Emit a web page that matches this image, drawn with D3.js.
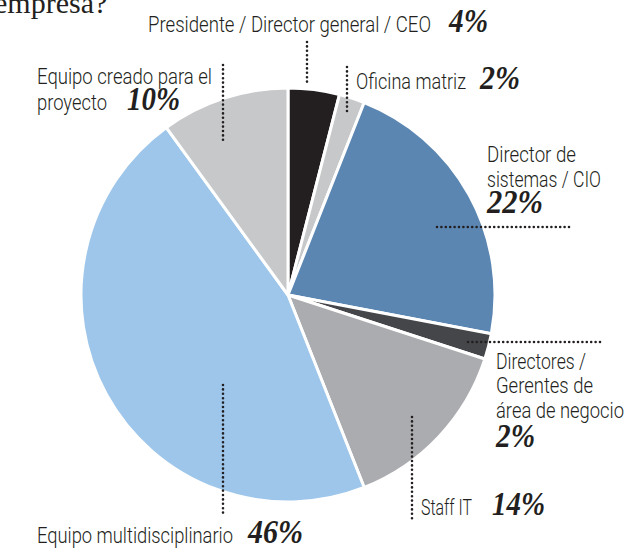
<!DOCTYPE html>
<html>
<head>
<meta charset="utf-8">
<script src="https://cdn.jsdelivr.net/npm/d3@7"></script>
<style>
body { margin: 0; background: #fff; }
.lbl { font-family: Roboto, "Open Sans", sans-serif; font-weight: 300; font-size: 22px; fill: #231f20; }
.pct { font-family: "Liberation Serif", "Times New Roman", serif; font-weight: bold; font-style: italic; font-size: 33px; fill: #231f20; }
.title { font-family: "Liberation Serif", "Times New Roman", serif; font-size: 30px; fill: #231f20; }
</style>
</head>
<body>
<div class="chart"></div>
<script>
var categories = ["Presidente / Director general / CEO", "Oficina matriz", "Director de sistemas / CIO", "Directores / Gerentes de área de negocio", "Staff IT", "Equipo multidisciplinario", "Equipo creado para el proyecto"];
var values = [4, 2, 22, 2, 14, 46, 10];
var sliceColors = ["#231f20", "#c7c8ca", "#5b86b2", "#444649", "#abacaf", "#9dc6ea", "#c7c8ca"];

// label placement: [text, x, baseline y, width], percentage [x, y, width], dotted leader
var labelLayout = [
    { lines: [["Presidente / Director general / CEO", 148, 32, 283]], pct: [449, 32, 39], leader: [[307, 42], [307, 86]] },
    { lines: [["Oficina matriz", 356, 89, 110]], pct: [480, 89, 40], leader: [[347, 67], [347, 112]] },
    { lines: [["Director de", 487, 162, 89], ["sistemas / CIO", 487, 187, 114]], pct: [487, 213, 56], leader: [[437, 227], [570, 227]] },
    { lines: [["Directores /", 496, 369, 90], ["Gerentes de", 496, 393, 97], ["área de negocio", 496, 418, 128]], pct: [496, 447, 39], leader: [[468, 342], [602, 342]] },
    { lines: [["Staff IT", 421, 515, 51]], pct: [492, 515, 53], leader: [[412, 417], [412, 520]] },
    { lines: [["Equipo multidisciplinario", 37, 543, 196]], pct: [248, 543, 55], leader: [[223, 385], [223, 513]] },
    { lines: [["Equipo creado para el", 37, 84, 175], ["proyecto", 37, 110, 70]], pct: [127, 110, 53], leader: [[223, 65], [223, 143]] }
];

var width = 626, height = 552;
var cx = 288, cy = 295, radius = 207;

var svg = d3.select(".chart").append("svg").attr("width", width).attr("height", height);

svg.append("text").attr("class", "title").attr("x", -6).attr("y", 13).text("empresa?");

var color = d3.scaleOrdinal().domain(categories).range(sliceColors);
var pie = d3.pie().sort(null).value(function(d) { return d.value; });
var arc = d3.arc().innerRadius(0).outerRadius(radius);

var data = categories.map(function(c, i) { return { name: c, value: values[i] }; });

var g = svg.append("g").attr("transform", "translate(" + cx + "," + cy + ")");
g.selectAll("path").data(pie(data)).enter().append("path")
    .attr("d", arc)
    .attr("fill", function(d) { return color(d.data.name); })
    .attr("stroke", "#fff")
    .attr("stroke-width", 3)
    .attr("stroke-linejoin", "round");

var labels = svg.append("g");
for (var i = 0; i < labelLayout.length; i++) {
    var L = labelLayout[i];
    labels.append("line")
        .attr("x1", L.leader[0][0]).attr("y1", L.leader[0][1])
        .attr("x2", L.leader[1][0]).attr("y2", L.leader[1][1])
        .attr("stroke", "#231f20").attr("stroke-width", 2.6)
        .attr("stroke-linecap", "round").attr("stroke-dasharray", "0,4.4");
    for (var j = 0; j < L.lines.length; j++) {
        labels.append("text").attr("class", "lbl")
            .attr("x", L.lines[j][1]).attr("y", L.lines[j][2])
            .attr("textLength", L.lines[j][3]).attr("lengthAdjust", "spacingAndGlyphs")
            .text(L.lines[j][0]);
    }
    labels.append("text").attr("class", "pct")
        .attr("x", L.pct[0]).attr("y", L.pct[1])
        .attr("textLength", L.pct[2]).attr("lengthAdjust", "spacingAndGlyphs")
        .text(values[i] + "%");
}
</script>
</body>
</html>
